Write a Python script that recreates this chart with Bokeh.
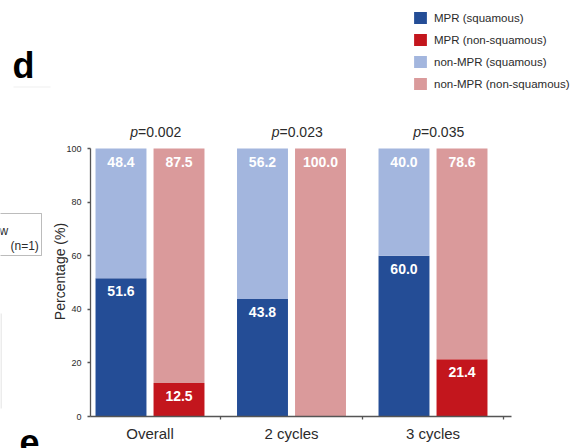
import math

from bokeh.core.properties import value
from bokeh.embed import file_html
from bokeh.models import (BoxAnnotation, ColumnDataSource, FixedTicker, Label,
                          Legend, LegendItem, LinearAxis, Range1d)
from bokeh.plotting import figure
from bokeh.resources import INLINE

# ---- data -------------------------------------------------------------
groups = ["Overall", "2 cycles", "3 cycles"]
p_values = ["0.002", "0.023", "0.035"]
mpr_squamous = [51.6, 43.8, 60.0]
non_mpr_squamous = [48.4, 56.2, 40.0]
mpr_non_squamous = [12.5, 0.0, 21.4]
non_mpr_non_squamous = [87.5, 100.0, 78.6]

# ---- style ------------------------------------------------------------
C_MPR_SQ = "#244d96"
C_MPR_NSQ = "#c3161d"
C_NON_SQ = "#a3b6de"
C_NON_NSQ = "#da9a9b"
AXIS_COLOR = "#555555"
FONT_NAME = "Liberation Sans"
FONT = value(FONT_NAME)
TEXT_DARK = "#2b2b2b"

W, H = 579, 448
OFFSET = 0.205
WIDTH = 0.36

# axis extents in data units; the frame fills the whole canvas and the
# axes are pinned inside it
X_AXIS_START, X_AXIS_END = -0.4205, 2.555
PX_PER_X = 141.5          # pixels per group
PX_PER_Y = 2.68           # pixels per percentage point
AXIS_LEFT_PX, AXIS_BOTTOM_PX = 90, 416

x_start = X_AXIS_START - AXIS_LEFT_PX / PX_PER_X
x_end = x_start + W / PX_PER_X
y_start = -(H - AXIS_BOTTOM_PX) / PX_PER_Y
y_end = y_start + H / PX_PER_Y

idx = list(range(len(groups)))
x_sq = [i - OFFSET for i in idx]
x_nsq = [i + OFFSET for i in idx]

p = figure(width=W, height=H, output_backend="svg", toolbar_location=None,
           x_range=Range1d(x_start, x_end), y_range=Range1d(y_start, y_end),
           x_axis_location=None, y_axis_location=None,
           min_border=0, min_border_left=0, min_border_right=0,
           min_border_top=0, min_border_bottom=0)
p.outline_line_color = None
p.grid.visible = False
p.background_fill_color = "white"
p.border_fill_color = "white"

# stacked bars: squamous column and non-squamous column per group
r1 = p.vbar(x=x_sq, bottom=0, top=mpr_squamous, width=WIDTH,
            fill_color=C_MPR_SQ, line_color=None)
r3 = p.vbar(x=x_sq, bottom=mpr_squamous, top=100, width=WIDTH,
            fill_color=C_NON_SQ, line_color=None)
r2 = p.vbar(x=x_nsq, bottom=0, top=mpr_non_squamous, width=WIDTH,
            fill_color=C_MPR_NSQ, line_color=None)
r4 = p.vbar(x=x_nsq, bottom=mpr_non_squamous, top=100, width=WIDTH,
            fill_color=C_NON_NSQ, line_color=None)

# value labels just under the top of each segment
lx, ly, lt = [], [], []
for i in idx:
    segs = [
        (x_sq[i], mpr_squamous[i], mpr_squamous[i]),
        (x_sq[i], 100, non_mpr_squamous[i]),
        (x_nsq[i], mpr_non_squamous[i], mpr_non_squamous[i]),
        (x_nsq[i], 100, non_mpr_non_squamous[i]),
    ]
    for x, top, v in segs:
        if v > 0:
            lx.append(x)
            ly.append(top)
            lt.append(f"{v:.1f}")
src = ColumnDataSource(dict(x=lx, y=ly, t=lt))
p.text(x="x", y="y", text="t", source=src, text_color="white",
       text_font=FONT, text_font_size="14px", text_font_style="bold",
       text_align="center", text_baseline="alphabetic", y_offset=13)

# axes pinned at the data origin
yaxis = LinearAxis(fixed_location=X_AXIS_START, bounds=(0, 100),
                   ticker=FixedTicker(ticks=[0, 20, 40, 60, 80, 100]))
xaxis = LinearAxis(fixed_location=0, bounds=(X_AXIS_START, X_AXIS_END),
                   ticker=FixedTicker(ticks=idx, minor_ticks=[0.5, 1.5, 2.5]),
                   major_label_overrides={i: g for i, g in zip(idx, groups)})
for ax in (xaxis, yaxis):
    ax.axis_line_color = AXIS_COLOR
    ax.axis_line_width = 1.3
    ax.major_tick_line_color = AXIS_COLOR
    ax.major_tick_line_width = 1.3
    ax.major_tick_in = 0
    ax.major_tick_out = 3
    ax.major_label_text_font = FONT_NAME
    ax.major_label_text_color = TEXT_DARK

yaxis.minor_tick_line_color = None
yaxis.major_label_text_font_size = "9px"
yaxis.major_label_standoff = 6

xaxis.major_tick_line_color = None
xaxis.minor_tick_line_color = AXIS_COLOR
xaxis.minor_tick_line_width = 1.3
xaxis.minor_tick_in = 0
xaxis.minor_tick_out = 3
xaxis.major_label_text_font_size = "15px"
xaxis.major_label_standoff = 5

p.add_layout(yaxis, "left")
p.add_layout(xaxis, "below")

# y axis title
p.add_layout(Label(x=X_AXIS_START - 31 / PX_PER_X, y=54.1,
                   text="Percentage (%)", angle=math.pi / 2,
                   text_font=FONT_NAME, text_font_size="14px",
                   text_color=TEXT_DARK, text_align="center",
                   text_baseline="middle"))

# p-values above each group
for i, pv in zip(idx, p_values):
    p.add_layout(Label(x=i, y=106.0, x_offset=-12, text="p",
                       text_font=FONT_NAME, text_font_size="14px",
                       text_font_style="italic", text_color=TEXT_DARK,
                       text_align="right", text_baseline="alphabetic"))
    p.add_layout(Label(x=i, y=106.0, x_offset=-12, text="=" + pv,
                       text_font=FONT_NAME, text_font_size="14px",
                       text_color=TEXT_DARK, text_align="left",
                       text_baseline="alphabetic"))

# legend
legend = Legend(items=[
    LegendItem(label="MPR (squamous)", renderers=[r1]),
    LegendItem(label="MPR (non-squamous)", renderers=[r2]),
    LegendItem(label="non-MPR (squamous)", renderers=[r3]),
    LegendItem(label="non-MPR (non-squamous)", renderers=[r4]),
], location=(412, H - 91), glyph_width=16, glyph_height=15, label_height=15,
    label_standoff=6, spacing=7, padding=0, margin=0,
    border_line_color=None, background_fill_alpha=0,
    label_text_font=FONT_NAME, label_text_font_size="11.5px",
    label_text_color=TEXT_DARK)
p.add_layout(legend, "center")


def screen_label(px, py, text, size, style="normal", color=TEXT_DARK):
    """Text placed in canvas pixels (origin top-left, baseline near py)."""
    return Label(x=px, y=H - py, x_units="screen", y_units="screen",
                 text=text, text_font=FONT_NAME, text_font_size=size,
                 text_font_style=style, text_color=color,
                 text_align="left", text_baseline="alphabetic")


def screen_box(left, top, right, bottom, **kw):
    """Rectangle in canvas pixels (origin top-left)."""
    return BoxAnnotation(left=left, right=right, top=H - top, bottom=H - bottom,
                         left_units="screen", right_units="screen",
                         top_units="screen", bottom_units="screen", **kw)


# panel letters and neighbouring panel fragments
p.add_layout(screen_label(12, 65, "d", "36px", "bold", "black"))
p.add_layout(screen_box(13, 86, 50, 87, fill_color="#f0f0f0", fill_alpha=1,
                        line_color=None))
p.add_layout(screen_label(19, 441, "e", "36px", "bold", "black"))
p.add_layout(screen_box(-2, 213, 41, 255, fill_alpha=0,
                        line_color="#222222", line_width=1))
p.add_layout(screen_label(-1, 230, "w", "12px"))
p.add_layout(screen_label(10, 245, "(n=1)", "12px"))
p.add_layout(screen_box(0, 313, 1, 408, fill_color="#d9d9d9", fill_alpha=1,
                        line_color=None))

open("out.html", "w").write(file_html(p, INLINE))
